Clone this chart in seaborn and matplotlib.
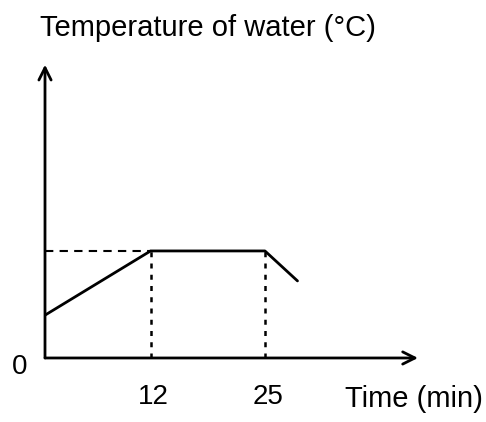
import pandas as pd
import seaborn as sns
import matplotlib.pyplot as plt
from matplotlib.transforms import ScaledTranslation

# heating curve of water (temperature in arbitrary units)
time_min = [0, 12, 25, 28.7]
temp = [40, 100, 100, 72]
tick_times = [12, 25]
tick_labels = ["12", "25"]
plateau = 100

df = pd.DataFrame({"time": time_min, "temp": temp})

sns.set_style("white")
plt.rcParams["font.family"] = ["Liberation Sans", "DejaVu Sans"]
plt.rcParams["text.color"] = "black"
plt.rcParams["xtick.color"] = "black"
plt.rcParams["ytick.color"] = "black"

fig = plt.figure(figsize=(4.86, 4.22), dpi=100)
ax = fig.add_axes([0.0926, 0.1517, 0.7675, 0.695])

sns.lineplot(data=df, x="time", y="temp", color="black", linewidth=2, ax=ax)

# guide lines to the plateau
ax.plot([0, tick_times[0]], [plateau, plateau], color="black", linewidth=1.5,
        linestyle=(0, (4, 3)))
for t in tick_times:
    ax.plot([t, t], [0, plateau], color="black", linewidth=1.8,
            linestyle=(0, (2, 2.5)))

ax.set_xlim(0, 42.4)
ax.set_ylim(0, 274)
for s in ax.spines.values():
    s.set_visible(False)

# axes as arrows
arrow = dict(arrowstyle="->", color="black", lw=2, mutation_scale=22,
             shrinkA=0, shrinkB=0)
ax.annotate("", xy=(1.0, 0), xytext=(0, 0), xycoords="axes fraction",
            arrowprops=arrow)
ax.annotate("", xy=(0, 1.0), xytext=(0, 0), xycoords="axes fraction",
            arrowprops=arrow)

ax.set_xticks(tick_times)
ax.set_xticklabels(tick_labels, fontsize=20)
ax.set_yticks([0])
ax.set_yticklabels(["0"], fontsize=20)
ax.tick_params(axis="x", length=0, pad=19)
ax.tick_params(axis="y", length=0, pad=13)
for lbl in ax.get_xticklabels():
    lbl.set_transform(lbl.get_transform() + ScaledTranslation(0.03, 0, fig.dpi_scale_trans))
for lbl in ax.get_yticklabels():
    lbl.set_transform(lbl.get_transform() + ScaledTranslation(0, -0.06, fig.dpi_scale_trans))
ax.set_xlabel("")
ax.set_ylabel("")

fig.text(40 / 486, 1 - 36 / 422, "Temperature of water (°C)", fontsize=21,
         ha="left", va="baseline")
fig.text(483 / 486, 1 - 407 / 422, "Time (min)", fontsize=21,
         ha="right", va="baseline")

plt.savefig("out.png", dpi=100, facecolor="white")
